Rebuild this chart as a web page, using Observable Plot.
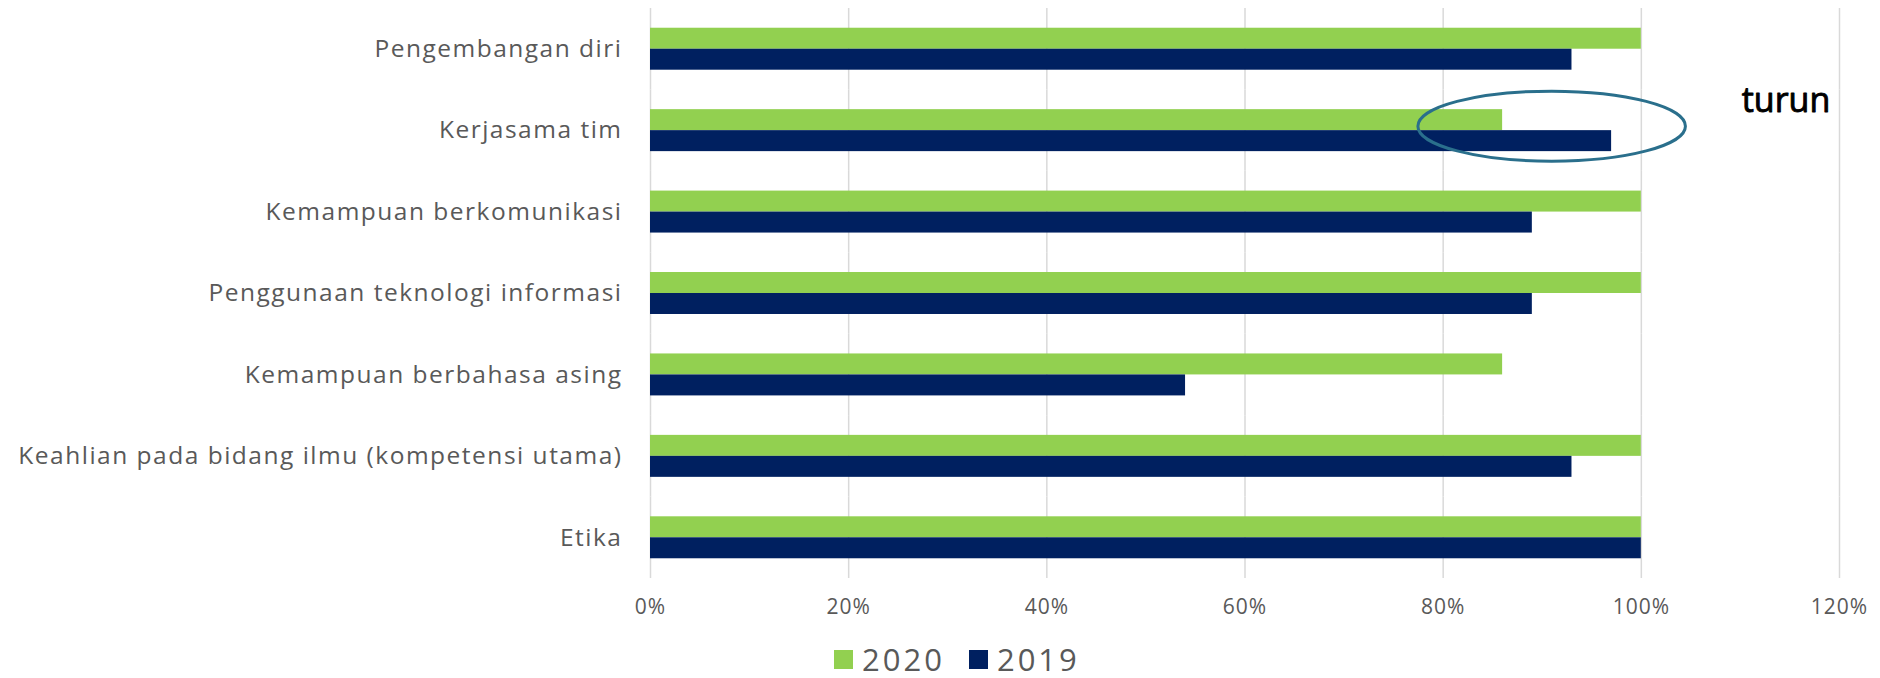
<!DOCTYPE html>
<html><head><meta charset="utf-8">
<script src="https://cdn.jsdelivr.net/npm/d3@7"></script>
<script src="https://cdn.jsdelivr.net/npm/@observablehq/plot@0.6"></script>
<style>
body{margin:0;background:#fff;font-family:"Open Sans",sans-serif;}
#legend{display:flex;align-items:center;height:38px;margin-left:834px;font-size:31px;letter-spacing:3px;color:#595959;font-family:"Open Sans",sans-serif;}
.sw{width:19px;height:19px;display:inline-block;margin-right:9px;}
.item{display:flex;align-items:center;margin-right:24px;}
</style></head><body><div id="chart"></div><div id="legend"></div>
<script>
const categories = ["Pengembangan diri","Kerjasama tim","Kemampuan berkomunikasi","Penggunaan teknologi informasi","Kemampuan berbahasa asing","Keahlian pada bidang ilmu (kompetensi utama)","Etika"];
const values2020 = [100,86,100,100,86,100,100];
const values2019 = [93,97,89,89,54,93,100];
const years = ["2020","2019"];
const colors = ["#92d050","#002060"];
const xTicks = [0,20,40,60,80,100,120];
const note = {category:"Kerjasama tim", label:"turun", labelX:114.6, ellipseX:91, ellipseRx:13.5};

const data = categories.flatMap((c,i)=>[
  {category:c, year:"2020", value:values2020[i]},
  {category:c, year:"2019", value:values2019[i]}
]);

const plot = Plot.plot({
  width:1880, height:640,
  marginTop:8, marginBottom:62, marginLeft:650, marginRight:41,
  style:{fontFamily:"Open Sans, sans-serif", color:"#595959", background:"#fff"},
  x:{domain:[0,120], label:null},
  fy:{domain:categories, padding:0, round:false, label:null},
  y:{domain:years, paddingInner:0, paddingOuter:0.94, round:false, axis:null},
  color:{domain:years, range:colors},
  marks:[
    Plot.gridX(xTicks,{stroke:"#d9d9d9", strokeOpacity:1, strokeWidth:1.5}),
    Plot.barX(data,{fy:"category", y:"year", x:"value", fill:"year"}),
    Plot.axisX({ticks:xTicks, tickFormat:d=>d+"%", tickSize:0, tickPadding:21, fontSize:21, fill:"#595959", label:null}),
    Plot.axisFy({anchor:"left", tickSize:0, tickPadding:28, fontSize:24.5, fill:"#595959", label:null}),
    Plot.text([note],{fy:"category", x:"labelX", text:"label", fontSize:34, fontWeight:400, fill:"#000", stroke:"#000", strokeWidth:0.9, dy:-30})
  ]
});
document.getElementById("chart").appendChild(plot);

const svg = d3.select(plot);
svg.selectAll('g[aria-label="fy-axis tick label"] text').style("letter-spacing","1.5px");
svg.selectAll('g[aria-label="x-axis tick label"] text').style("letter-spacing","1px");

const sx = plot.scale("x"), sfy = plot.scale("fy");
const cx = sx.apply(note.ellipseX);
const rx = sx.apply(note.ellipseX + note.ellipseRx) - cx;
const cy = sfy.apply(note.category) + sfy.bandwidth/2 - 4;
svg.append("ellipse").attr("cx",cx).attr("cy",cy).attr("rx",rx).attr("ry",35)
  .attr("fill","none").attr("stroke","#2a6f8c").attr("stroke-width",3);

const leg = d3.select("#legend");
years.forEach((y,i)=>{
  const it = leg.append("div").attr("class","item");
  it.append("span").attr("class","sw").style("background",colors[i]);
  it.append("span").text(y);
});
</script></body></html>
